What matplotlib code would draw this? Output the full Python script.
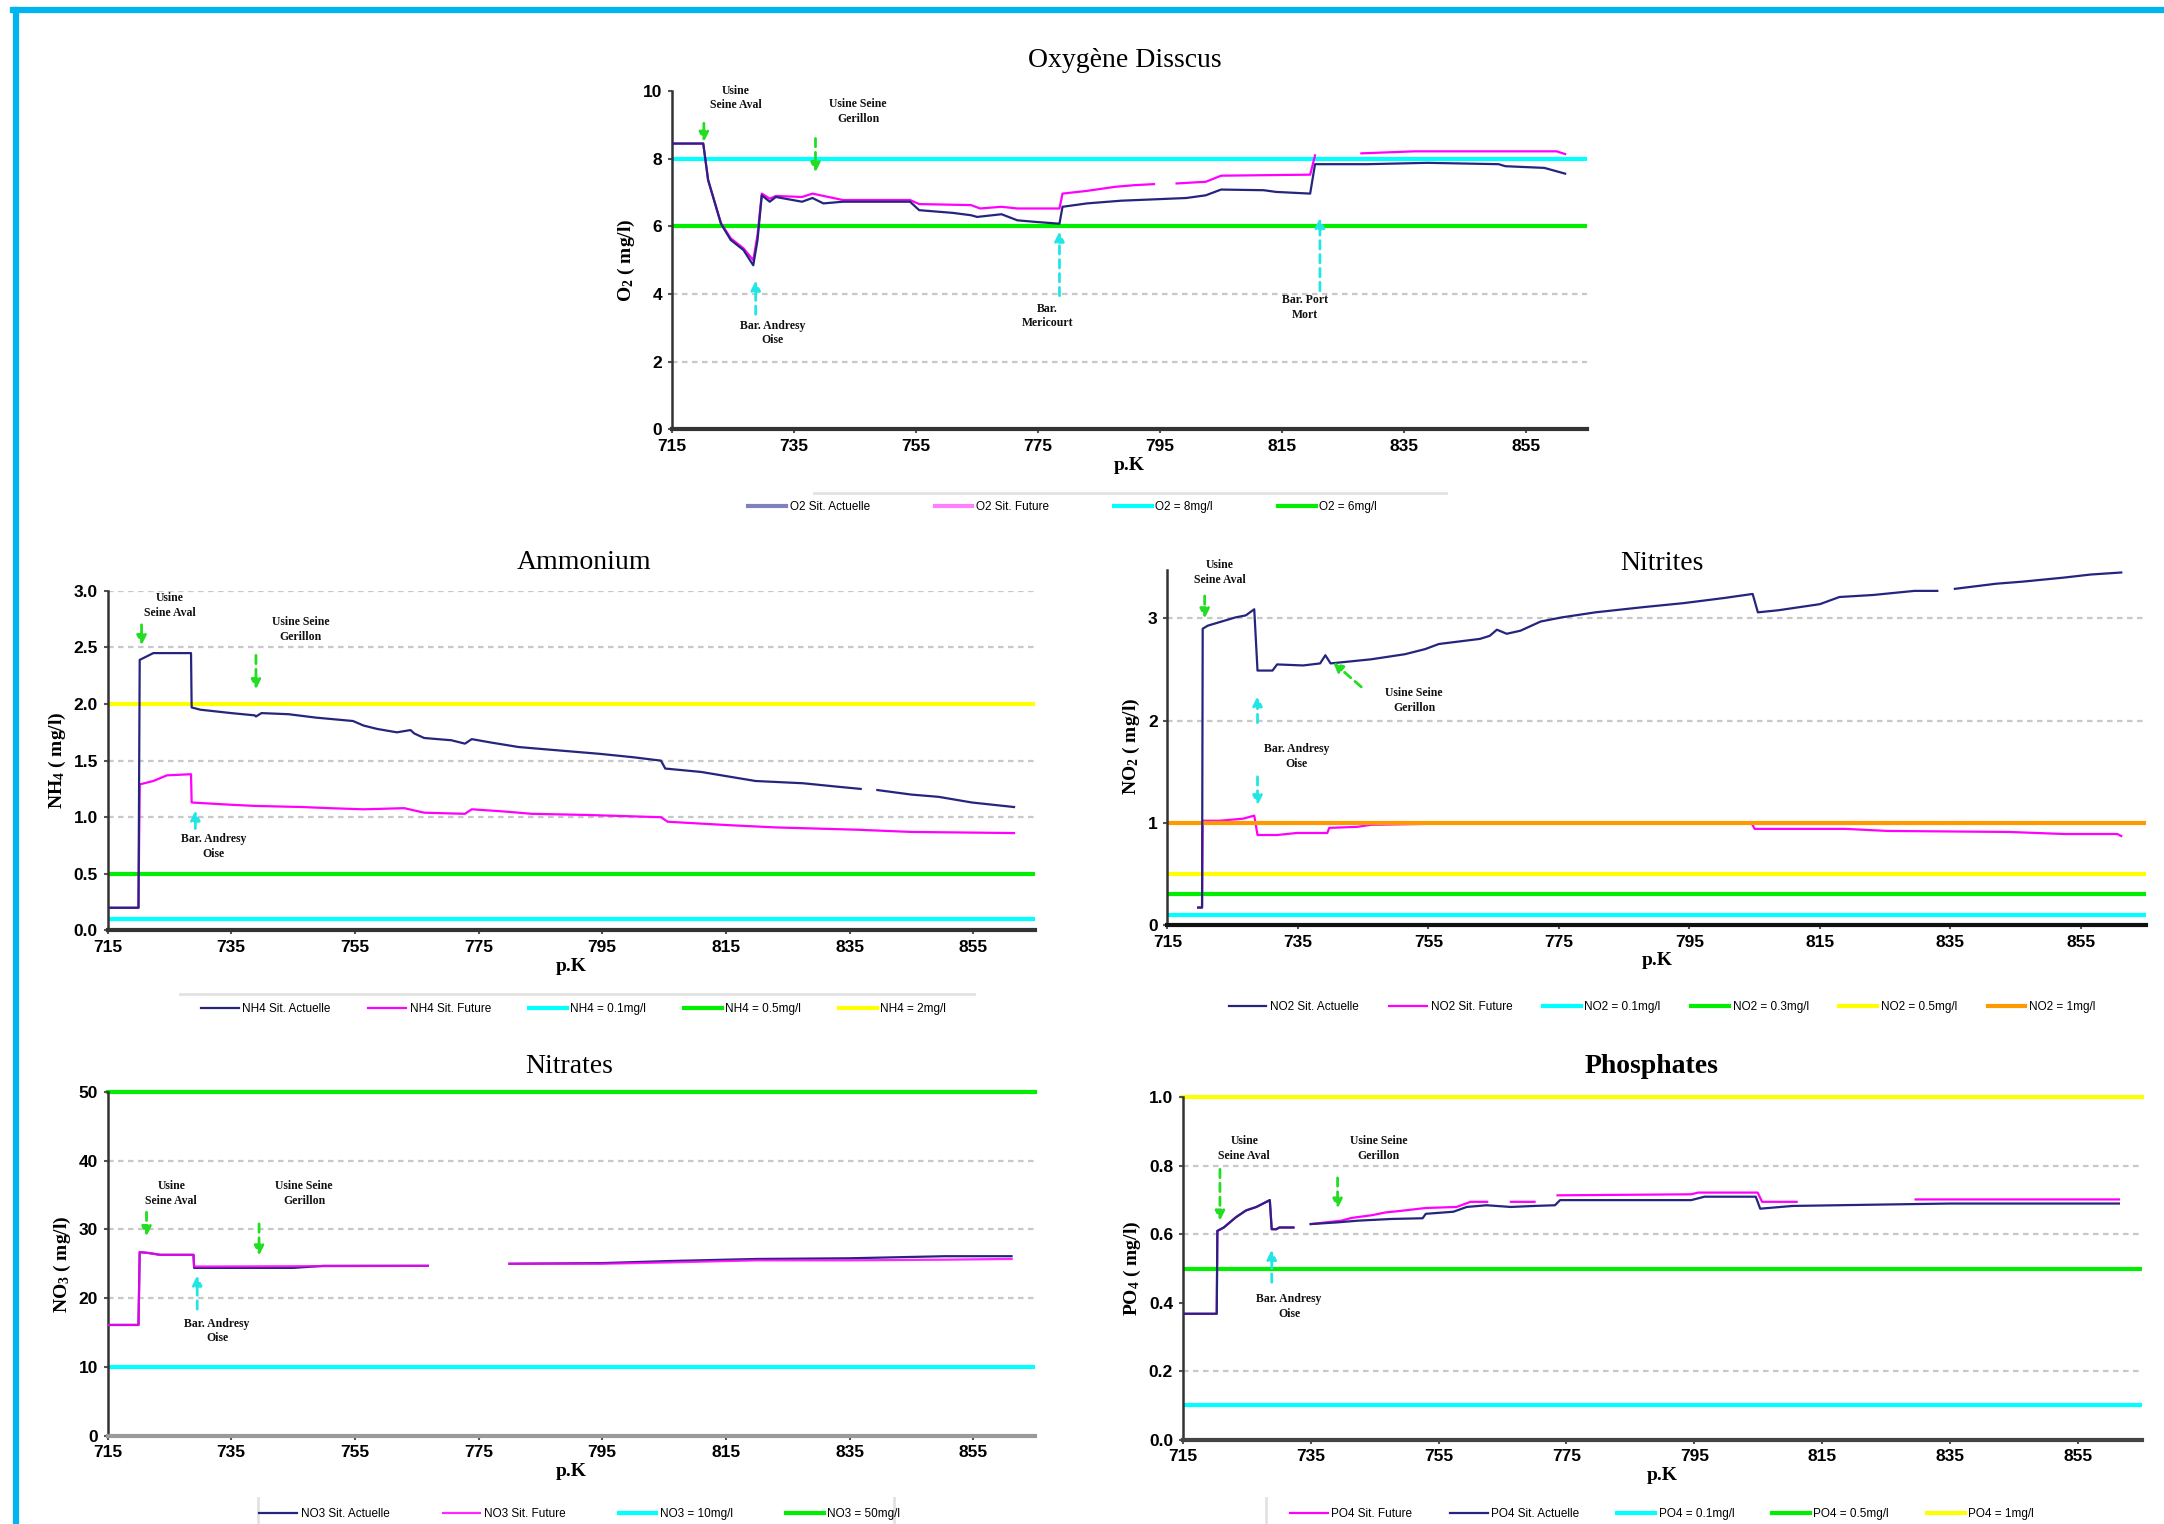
import matplotlib.pyplot as plt
from matplotlib.lines import Line2D
import numpy as np

nan = np.nan

# ---- data -----------------------------------------------------------------
pk_ticks = [715, 735, 755, 775, 795, 815, 835, 855]

# Oxygene dissous
o2_act_x = [715, 720.1, 720.9, 723, 724.6, 726.7, 728.3, 729, 729.7, 731, 732, 736.3, 738, 739.8,
            743, 754, 755.5, 761, 764, 765, 769, 771.6, 774.8, 778.5, 779, 783, 788.6, 794, 799.3,
            802.5, 805, 812, 814, 819.6, 820.4, 829, 838.8, 850.5, 851.6, 858, 861.4]
o2_act_y = [8.45, 8.45, 7.37, 6.08, 5.6, 5.3, 4.85, 5.6, 6.92, 6.73, 6.87, 6.73, 6.84, 6.68,
            6.73, 6.73, 6.48, 6.4, 6.33, 6.28, 6.36, 6.18, 6.13, 6.08, 6.58, 6.68, 6.76, 6.8, 6.84,
            6.92, 7.09, 7.07, 7.02, 6.97, 7.84, 7.84, 7.88, 7.84, 7.78, 7.73, 7.56]
o2_fut_x = [715, 720.1, 720.9, 723, 724.6, 726.7, 728.3, 729, 729.7, 731, 732, 736.3, 738,
            743, 754, 755.5, 764, 765.5, 769, 771.6, 778.5, 779, 783, 787.6, 790.8, 794, 795,
            797.7, 802.5, 805, 819.6, 820.4, 821, 828, 836.7, 860, 861.4]
o2_fut_y = [8.45, 8.45, 7.37, 6.1, 5.65, 5.35, 5.0, 5.75, 6.97, 6.82, 6.9, 6.87, 6.97,
            6.78, 6.78, 6.66, 6.63, 6.53, 6.58, 6.53, 6.53, 6.97, 7.05, 7.17, 7.22, 7.25, nan,
            7.27, 7.32, 7.5, 7.53, 8.1, nan, 8.16, 8.22, 8.22, 8.14]

# Ammonium
nh4_act_x = [715, 720, 720.2, 721.3, 722.4, 724.6, 728.5, 728.6, 730, 735, 738.8, 739, 739.9,
             744.3, 748.7, 754.7, 756.4, 758.6, 761.8, 764, 764.6, 766.2, 770.6, 772.8, 773.9,
             777, 781.5, 788, 794.6, 800, 804.5, 805.2, 811, 816.5, 819.8, 827.5, 833, 836.8,
             838, 839.5, 845, 849.4, 854.8, 861.6]
nh4_act_y = [0.2, 0.2, 2.39, 2.42, 2.45, 2.45, 2.45, 1.97, 1.95, 1.92, 1.9, 1.89, 1.92,
             1.91, 1.88, 1.85, 1.81, 1.78, 1.75, 1.77, 1.74, 1.70, 1.68, 1.65, 1.69,
             1.66, 1.62, 1.59, 1.56, 1.53, 1.50, 1.43, 1.40, 1.35, 1.32, 1.30, 1.27, 1.25,
             nan, 1.24, 1.20, 1.18, 1.13, 1.09]
nh4_fut_x = [715, 720, 720.2, 722.4, 724.6, 728.5, 728.6, 735, 738.8, 746.5, 750.9, 756.4,
             763, 766.2, 772.8, 773.9, 779.3, 783.6, 792.5, 804.5, 805.6, 815.4, 823, 836,
             845, 861.6]
nh4_fut_y = [0.2, 0.2, 1.29, 1.32, 1.37, 1.38, 1.13, 1.11, 1.10, 1.09, 1.08, 1.07,
             1.08, 1.04, 1.03, 1.07, 1.05, 1.03, 1.02, 1.00, 0.96, 0.93, 0.91, 0.89,
             0.87, 0.86]

# Nitrites
no2_act_x = [719.7, 720.3, 720.4, 721.2, 723.3, 725.4, 727, 728.3, 728.8, 731.1, 731.8, 735.8,
             738.4, 739.2, 740, 746.2, 751.4, 754.5, 756.6, 762.9, 764.4, 765.5, 767, 769.1,
             772.2, 775.4, 780.6, 787.8, 794.1, 800.3, 804.7, 805.5, 808.6, 815, 818, 823.2,
             829.5, 833, 834, 835.7, 842, 846, 852.4, 856.5, 861.2]
no2_act_y = [0.17, 0.17, 2.9, 2.93, 2.97, 3.01, 3.03, 3.09, 2.49, 2.49, 2.55, 2.54,
             2.56, 2.64, 2.56, 2.6, 2.65, 2.70, 2.75, 2.80, 2.83, 2.89, 2.85, 2.88,
             2.97, 3.01, 3.06, 3.11, 3.15, 3.2, 3.24, 3.06, 3.08, 3.14, 3.21, 3.23,
             3.27, 3.27, nan, 3.29, 3.34, 3.36, 3.4, 3.43, 3.45]
no2_fut_x = [719.7, 720.3, 720.4, 723, 726.6, 728.3, 728.8, 731.8, 734.8, 739.5, 739.8, 744.1,
             746.2, 755.6, 804.6, 805, 819, 825.3, 844, 852.4, 860.6, 861.2]
no2_fut_y = [0.17, 0.17, 1.02, 1.02, 1.04, 1.07, 0.88, 0.88, 0.90, 0.90, 0.95, 0.96,
             0.98, 0.99, 0.99, 0.94, 0.94, 0.92, 0.91, 0.89, 0.89, 0.87]

# Nitrates
no3_act_x = [715, 720, 720.2, 721.8, 723.5, 728.9, 729, 745, 750, 766.8, 767, 780, 795,
             805.9, 820, 835, 850.4, 861.2]
no3_act_y = [16.1, 16.1, 26.7, 26.55, 26.3, 26.3, 24.4, 24.4, 24.7, 24.7, nan, 25.0, 25.1,
             25.4, 25.7, 25.8, 26.1, 26.1]
no3_fut_x = [715, 720, 720.2, 721.8, 723.5, 728.9, 729, 766.8, 767, 780, 795, 805.9, 820,
             835, 850.4, 861.2]
no3_fut_y = [16.1, 16.1, 26.7, 26.55, 26.3, 26.3, 24.6, 24.7, nan, 25.0, 25.0, 25.2, 25.5,
             25.5, 25.6, 25.7]

# Phosphates
po4_act_x = [715, 720.3, 720.4, 721.4, 723.3, 724.9, 726.5, 728.6, 728.9, 729.6, 730.1,
             732.3, 733, 735, 739.2, 742.4, 747.7, 752.5, 753, 757.3, 759.4, 762.5, 766.3,
             770, 773.2, 774, 794.5, 796.6, 804.6, 805.3, 810.4, 824.2, 834.9, 861.4]
po4_act_y = [0.368, 0.368, 0.61, 0.62, 0.65, 0.67, 0.68, 0.70, 0.615, 0.615, 0.62,
             0.62, nan, 0.63, 0.635, 0.64, 0.645, 0.647, 0.66, 0.666, 0.68, 0.685, 0.68,
             0.683, 0.685, 0.70, 0.70, 0.71, 0.71, 0.675, 0.683, 0.687, 0.69, 0.69]
po4_fut_x = [715, 720.3, 720.4, 721.4, 723.3, 724.9, 726.5, 728.6, 728.9, 729.6, 730.1,
             732.3, 733, 735, 739.8, 741.4, 744.6, 746.7, 748.8, 753, 757.8, 760, 762.6,
             763, 766.3, 770, 771, 773.6, 794.5, 795.6, 804.9, 805.6, 811, 812, 829.6, 861.4]
po4_fut_y = [0.368, 0.368, 0.61, 0.62, 0.65, 0.67, 0.68, 0.70, 0.615, 0.615, 0.62,
             0.62, nan, 0.63, 0.64, 0.648, 0.656, 0.664, 0.668, 0.677, 0.68, 0.695, 0.695,
             nan, 0.695, 0.695, nan, 0.714, 0.717, 0.722, 0.722, 0.695, 0.695, nan, 0.702, 0.702]

# ---- style ----------------------------------------------------------------
ACT = '#25257f'
FUT = '#ff00ff'
CYAN = '#00ffff'
GREEN = '#00ee00'
YELLOW = '#ffff00'
ORANGE = '#ff9900'
ARROW_G = '#22dd22'
ARROW_C = '#22e6e6'
TICKFONT = ['Liberation Sans Narrow', 'Liberation Sans', 'DejaVu Sans']
SERIF = ['Liberation Serif', 'DejaVu Serif']

plt.rcParams['mathtext.default'] = 'regular'

fig = plt.figure(figsize=(21.64, 15.24), dpi=100)


def fig_line(xs, ys, color, lw):
    fig.add_artist(Line2D(xs, ys, color=color, lw=lw, transform=fig.transFigure))


# blue frame
fig_line([0.0075, 0.0075], [0, 0.9934], '#00b4f0', 4.5)
fig_line([0.006, 1], [0.9934, 0.9934], '#00b4f0', 4.5)


def setup_ax(rect, ylim, yticks, ylabel, fmt, grid_at, xaxis_color='#333333'):
    ax = fig.add_axes(rect)
    ax.set_xlim(715, 865)
    ax.set_ylim(*ylim)
    ax.set_xticks(pk_ticks)
    ax.set_yticks(yticks)
    ax.set_yticklabels([fmt.format(v) for v in yticks])
    for v in grid_at:
        ax.axhline(v, color='#c8c8c8', lw=1.6, ls=(0, (2.5, 2)), zorder=0)
    for s in ['top', 'right']:
        ax.spines[s].set_visible(False)
    ax.spines['left'].set_color('#333333')
    ax.spines['left'].set_linewidth(1.8)
    ax.spines['bottom'].set_color(xaxis_color)
    ax.spines['bottom'].set_linewidth(3)
    ax.tick_params(length=3, width=1.5, color='#555555', pad=4)
    for lab in ax.get_xticklabels() + ax.get_yticklabels():
        lab.set_family(TICKFONT)
        lab.set_fontweight('bold')
        lab.set_fontsize(12.5)
    ax.set_xlabel('p.K', family=SERIF, fontweight='bold', fontsize=14, labelpad=2)
    ax.set_ylabel(ylabel, family=SERIF, fontweight='bold', fontsize=14, labelpad=4)
    return ax


def note(ax, text, xy, xytext, color, ty, tx=None):
    ax.annotate('', xy=xy, xytext=xytext,
                arrowprops=dict(arrowstyle='-|>', color=color, lw=2, ls=(0, (3, 2)),
                                mutation_scale=14, shrinkA=0, shrinkB=0))
    ax.text(xy[0] if tx is None else tx, ty, text, ha='center', va='center',
            family=SERIF, fontweight='bold', fontsize=8.5, linespacing=1.3, color='#111111')


def legend(handles, labels, x, y, ncol, spacing):
    return fig.legend(handles, labels, loc='center', bbox_to_anchor=(x, y), ncol=ncol,
                      frameon=False, handlelength=3.2, columnspacing=spacing,
                      handletextpad=0.3, prop={'family': TICKFONT, 'size': 8.5})


# ---- Oxygene dissous ---------------------------------------------------------
ax = setup_ax([0.3106, 0.7183, 0.4228, 0.2219], (0, 10), [0, 2, 4, 6, 8, 10],
              'O$_2$ ( mg/l)', '{:g}', [2, 4])
h1, = ax.plot(o2_act_x, o2_act_y, color=ACT, lw=1.6, zorder=3)
h2, = ax.plot(o2_fut_x, o2_fut_y, color=FUT, lw=1.6, zorder=2)
h3 = ax.axhline(8, color=CYAN, lw=3, zorder=1)
h4 = ax.axhline(6, color=GREEN, lw=3, zorder=1)
note(ax, 'Usine\nSeine Aval', (720.2, 8.5), (720.2, 9.05), ARROW_G, 9.8, 725.5)
note(ax, 'Usine Seine\nGerillon', (738.5, 7.6), (738.5, 8.6), ARROW_G, 9.4, 745.5)
note(ax, 'Bar. Andresy\nOise', (728.7, 4.4), (728.7, 3.4), ARROW_C, 2.85, 731.5)
note(ax, 'Bar.\nMericourt', (778.5, 5.85), (778.5, 3.95), ARROW_C, 3.35, 776.5)
note(ax, 'Bar. Port\nMort', (821.2, 6.25), (821.2, 4.1), ARROW_C, 3.6, 818.8)
fig.text(0.52, 0.960, 'Oxygène Disscus', ha='center', va='center', family=SERIF, fontsize=20)
lg = legend([h1, h2, h3, h4], ['O2 Sit. Actuelle', 'O2 Sit. Future', 'O2 = 8mg/l', 'O2 = 6mg/l'],
            0.491, 0.667, 4, 5.5)
for line, c in zip(lg.get_lines(), ['#8080c0', '#ff80ff', CYAN, GREEN]):
    line.set_color(c)
    line.set_linewidth(3)
fig_line([0.376, 0.668], [0.6766, 0.6766], '#e2e2e2', 2)

# ---- Ammonium -------------------------------------------------------------
ax = setup_ax([0.0497, 0.3895, 0.4286, 0.2228], (0, 3.0), [0, 0.5, 1.0, 1.5, 2.0, 2.5, 3.0],
              'NH$_4$ ( mg/l)', '{:.1f}', [0.5, 1.0, 1.5, 2.0, 2.5, 3.0])
h1, = ax.plot(nh4_act_x, nh4_act_y, color=ACT, lw=1.6, zorder=3)
h2, = ax.plot(nh4_fut_x, nh4_fut_y, color=FUT, lw=1.6, zorder=2)
h3 = ax.axhline(0.1, color=CYAN, lw=3, zorder=1)
h4 = ax.axhline(0.5, color=GREEN, lw=3, zorder=1)
h5 = ax.axhline(2.0, color=YELLOW, lw=3, zorder=1)
note(ax, 'Usine\nSeine Aval', (720.5, 2.52), (720.5, 2.7), ARROW_G, 2.87, 725)
note(ax, 'Usine Seine\nGerillon', (739, 2.13), (739, 2.43), ARROW_G, 2.66, 746.2)
note(ax, 'Bar. Andresy\nOise', (729.2, 1.06), (729.2, 0.9), ARROW_C, 0.74, 732.2)
fig.text(0.270, 0.631, 'Ammonium', ha='center', va='center', family=SERIF, fontsize=20)
legend([h1, h2, h3, h4, h5], ['NH4 Sit. Actuelle', 'NH4 Sit. Future', 'NH4 = 0.1mg/l',
                              'NH4 = 0.5mg/l', 'NH4 = 2mg/l'], 0.265, 0.338, 5, 3.2)
fig_line([0.083, 0.45], [0.3478, 0.3478], '#e2e2e2', 2)

# ---- Nitrites ------------------------------------------------------------------
ax = setup_ax([0.5395, 0.3931, 0.4522, 0.2346], (0, 3.5), [0, 1, 2, 3],
              'NO$_2$ ( mg/l)', '{:g}', [2, 3], xaxis_color='#111111')
ax.spines['left'].set_bounds(0, 3.47)
h1, = ax.plot(no2_act_x, no2_act_y, color=ACT, lw=1.6, zorder=3)
h2, = ax.plot(no2_fut_x, no2_fut_y, color=FUT, lw=1.6, zorder=2)
h3 = ax.axhline(0.1, color=CYAN, lw=3, zorder=1)
h4 = ax.axhline(0.3, color=GREEN, lw=3, zorder=1)
h5 = ax.axhline(0.5, color=YELLOW, lw=3, zorder=1)
h6 = ax.axhline(1.0, color=ORANGE, lw=3, zorder=2.5)
note(ax, 'Usine\nSeine Aval', (720.7, 3.0), (720.7, 3.22), ARROW_G, 3.45, 723)
note(ax, 'Usine Seine\nGerillon', (740.4, 2.57), (744.7, 2.33), ARROW_G, 2.2, 752.8)
note(ax, 'Bar. Andresy\nOise', (728.8, 2.24), (728.8, 1.98), ARROW_C, 1.65, 734.8)
note(ax, '', (728.8, 1.17), (728.8, 1.45), ARROW_C, 1.3)
fig.text(0.768, 0.630, 'Nitrites', ha='center', va='center', family=SERIF, fontsize=20)
legend([h1, h2, h3, h4, h5, h6], ['NO2 Sit. Actuelle', 'NO2 Sit. Future', 'NO2 = 0.1mg/l',
                                  'NO2 = 0.3mg/l', 'NO2 = 0.5mg/l', 'NO2 = 1mg/l'],
       0.768, 0.339, 6, 2.6)

# ---- Nitrates ------------------------------------------------------------------
ax = setup_ax([0.0497, 0.058, 0.4286, 0.2255], (0, 50), [0, 10, 20, 30, 40, 50],
              'NO$_3$ ( mg/l)', '{:g}', [20, 30, 40], xaxis_color='#9a9a9a')
h1, = ax.plot(no3_act_x, no3_act_y, color=ACT, lw=1.6, zorder=2)
h2, = ax.plot(no3_fut_x, no3_fut_y, color=FUT, lw=1.6, alpha=0.85, zorder=3)
h3 = ax.axhline(10, color=CYAN, lw=3, zorder=1)
h4 = ax.axhline(50, color=GREEN, lw=3, zorder=1, clip_on=False)
note(ax, 'Usine\nSeine Aval', (721.3, 29.0), (721.3, 32.5), ARROW_G, 35.2, 725.3)
note(ax, 'Usine Seine\nGerillon', (739.5, 26.2), (739.5, 30.8), ARROW_G, 35.2, 746.8)
note(ax, 'Bar. Andresy\nOise', (729.5, 23.3), (729.5, 18.4), ARROW_C, 15.2, 732.7)
fig.text(0.263, 0.300, 'Nitrates', ha='center', va='center', family=SERIF, fontsize=20)
legend([h1, h2, h3, h4], ['NO3 Sit. Actuelle', 'NO3 Sit. Future', 'NO3 = 10mg/l',
                          'NO3 = 50mg/l'], 0.268, 0.0065, 4, 4.5)
fig_line([0.119, 0.119], [0, 0.017], '#e2e2e2', 2)
fig_line([0.413, 0.413], [0, 0.017], '#e2e2e2', 2)

# ---- Phosphates ------------------------------------------------------------------
ax = setup_ax([0.5466, 0.0553, 0.4432, 0.2246], (0, 1.0), [0, 0.2, 0.4, 0.6, 0.8, 1.0],
              'PO$_4$ ( mg/l)', '{:.1f}', [0.2, 0.6, 0.8], xaxis_color='#444444')
h2, = ax.plot(po4_fut_x, po4_fut_y, color=FUT, lw=1.6, zorder=2)
h1, = ax.plot(po4_act_x, po4_act_y, color=ACT, lw=1.6, zorder=3)
h3 = ax.axhline(0.1, color=CYAN, lw=3, zorder=1)
h4 = ax.axhline(0.5, color=GREEN, lw=3, zorder=1)
h5 = ax.axhline(1.0, color=YELLOW, lw=3, zorder=1, clip_on=False)
note(ax, 'Usine\nSeine Aval', (720.8, 0.64), (720.8, 0.79), ARROW_G, 0.85, 724.6)
note(ax, 'Usine Seine\nGerillon', (739.2, 0.675), (739.2, 0.765), ARROW_G, 0.85, 745.6)
note(ax, 'Bar. Andresy\nOise', (728.9, 0.555), (728.9, 0.46), ARROW_C, 0.39, 731.6)
fig.text(0.763, 0.300, 'Phosphates', ha='center', va='center', family=SERIF,
         fontsize=20, fontweight='bold')
legend([h2, h1, h3, h4, h5], ['PO4 Sit. Future', 'PO4 Sit. Actuelle', 'PO4 = 0.1mg/l',
                              'PO4 = 0.5mg/l', 'PO4 = 1mg/l'], 0.768, 0.0065, 5, 3.2)
fig_line([0.585, 0.585], [0, 0.017], '#e2e2e2', 2)

fig.savefig('out.png', dpi=100, facecolor='white')
